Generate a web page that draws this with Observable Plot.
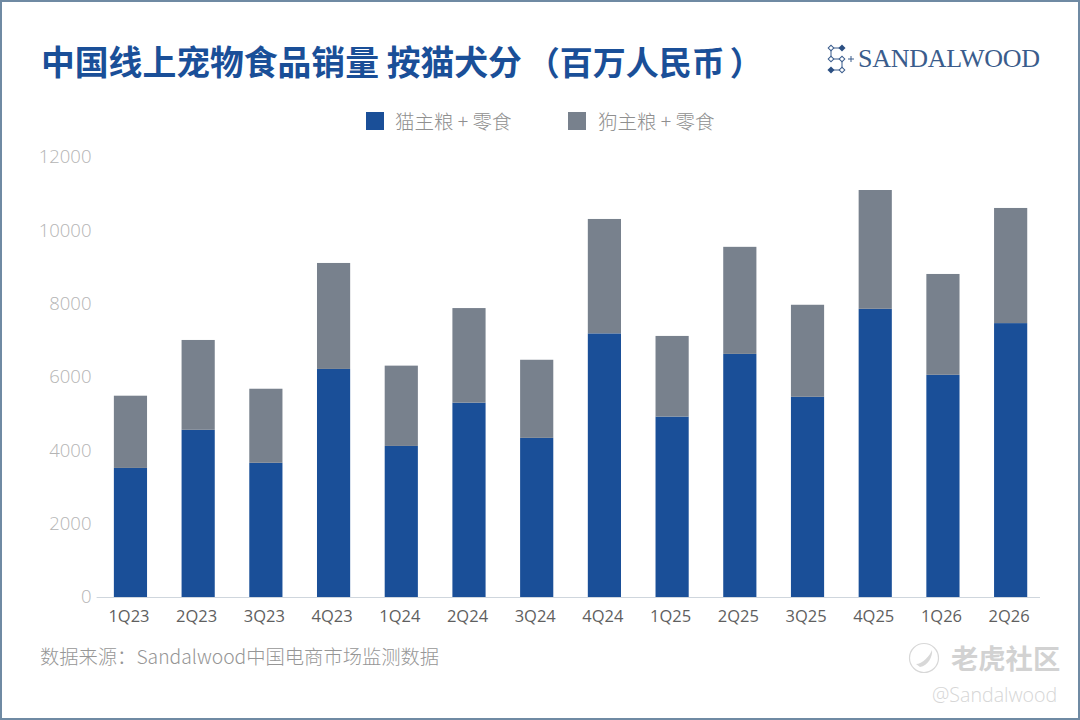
<!DOCTYPE html>
<html><head><meta charset="utf-8">
<script src="https://cdn.jsdelivr.net/npm/d3@7"></script>
<script src="https://cdn.jsdelivr.net/npm/@observablehq/plot@0.6"></script>
<style>
html,body{margin:0;padding:0;background:#fff;width:1080px;height:720px;overflow:hidden;font-family:"Noto Sans CJK SC","Noto Sans",sans-serif}
#frame{position:absolute;left:0;top:0;width:1080px;height:720px;box-sizing:border-box;border:2px solid #6f8aa3;pointer-events:none}
.abs{position:absolute;white-space:nowrap}
#chart{position:absolute;left:0;top:140px}
#title{left:41px;top:37px;font-size:33.8px;line-height:48px;font-weight:700;color:#1a4f98}
#title span{display:inline-block}
.sw{width:18px;height:18px;top:112px}
.leg{top:108px;font-size:19.5px;line-height:26px;color:#8f8f8f;font-weight:300}
#source{left:40px;top:643px;font-size:19.3px;line-height:26px;color:#969696;font-weight:300}
#brand{left:858px;top:41px;font-family:"Liberation Serif",serif;font-size:26px;line-height:36px;color:#3a5c8c;letter-spacing:-.25px}
#wm1{left:951px;top:640px;font-size:27.3px;line-height:34px;font-weight:700;color:#d2d2d2}
#wm2{left:932px;top:683px;font-size:19.6px;line-height:24px;color:#d6d6d6;font-family:"Open Sans",sans-serif;font-weight:300}
</style></head><body>
<div id="title" class="abs">中国线上宠物食品销量 按猫犬分<span style="margin-left:5px;font-size:33px">（百万人民币</span><span style="margin-left:5px;font-size:33px">）</span></div>
<svg class="abs" style="left:826px;top:44px" width="30" height="32" viewBox="0 0 30 32">
<g fill="none" stroke="#3a5c8c" stroke-width="1"><path d="M5 4H16M5 4V15M5 15H16M16 15V26M5 26H16"/><path d="M22 15H28M25 12V18"/></g>
<g stroke="#3a5c8c" fill="#fff"><rect x="3" y="2" width="4" height="4" transform="rotate(45 5 4)"/><rect x="3" y="13" width="4" height="4" transform="rotate(45 5 15)"/><rect x="14" y="13" width="4" height="4" transform="rotate(45 16 15)"/><rect x="14" y="24" width="4" height="4" transform="rotate(45 16 26)"/></g>
<g fill="#2b4f82"><rect x="13.5" y="1.5" width="5" height="5" transform="rotate(45 16 4)"/><rect x="2.5" y="23.5" width="5" height="5" transform="rotate(45 5 26)"/></g>
</svg>
<div id="brand" class="abs">SANDALWOOD</div>
<div class="abs sw" style="left:366px;background:#1a4f98"></div>
<div class="abs leg" style="left:395px">猫主粮 + 零食</div>
<div class="abs sw" style="left:568px;background:#78818d"></div>
<div class="abs leg" style="left:598px">狗主粮 + 零食</div>
<div id="chart"></div>
<div id="source" class="abs">数据来源：Sandalwood中国电商市场监测数据</div>
<svg class="abs" style="left:908px;top:642px" width="32" height="32" viewBox="0 0 32 32"><circle cx="16" cy="16" r="14.5" fill="none" stroke="#d8d8d8" stroke-width="1.2"/><path d="M8 22C14 22 22 14 24 8C25 14 20 24 12 25Z" fill="#d8d8d8"/></svg>
<div id="wm1" class="abs">老虎社区</div>
<div id="wm2" class="abs">@Sandalwood</div>
<div id="frame"></div>
<script>
const quarters = ["1Q23","2Q23","3Q23","4Q23","1Q24","2Q24","3Q24","4Q24","1Q25","2Q25","3Q25","4Q25","1Q26","2Q26"];
const catValues = [3520,4560,3660,6220,4120,5300,4340,7190,4920,6630,5460,7860,6060,7470];
const dogValues = [1970,2450,2020,2890,2190,2580,2130,3120,2200,2920,2510,3240,2750,3140];
const seriesNames = ["猫主粮 + 零食","狗主粮 + 零食"];
const seriesColors = ["#1a4f98","#78818d"];
const yTicks = [0,2000,4000,6000,8000,10000,12000];

const rows = [
  ...quarters.map((q,i)=>({q,s:seriesNames[0],v:catValues[i]})),
  ...quarters.map((q,i)=>({q,s:seriesNames[1],v:dogValues[i]}))
];
const chart = Plot.plot({
  width:1080,height:490,
  marginLeft:94.6,marginRight:37.5,marginTop:17,marginBottom:33,
  style:{background:"transparent",fontFamily:'"Open Sans","Noto Sans",sans-serif'},
  x:{domain:quarters,paddingInner:0.51,paddingOuter:0.255,align:0.5,round:false,label:null},
  y:{domain:[0,12000],label:null},
  color:{domain:seriesNames,range:seriesColors},
  marks:[
    Plot.barY(rows,{x:"q",y:"v",fill:"s",order:seriesNames,dx:2}),
    Plot.ruleY([0],{stroke:"#cfd6dd",strokeWidth:1,insetLeft:2,insetRight:2.5}),
    Plot.axisY({ticks:yTicks,tickFormat:d=>String(d),tickSize:0,tickPadding:3.6,label:null,fontSize:18.5,fontWeight:300,fill:"#b4b4b4",stroke:"none"}),
    Plot.axisX({tickSize:0,tickPadding:13,label:null,fontSize:16.5,fill:"#5f5f5f"})
  ]
});
document.getElementById("chart").appendChild(chart);
</script>
</body></html>
